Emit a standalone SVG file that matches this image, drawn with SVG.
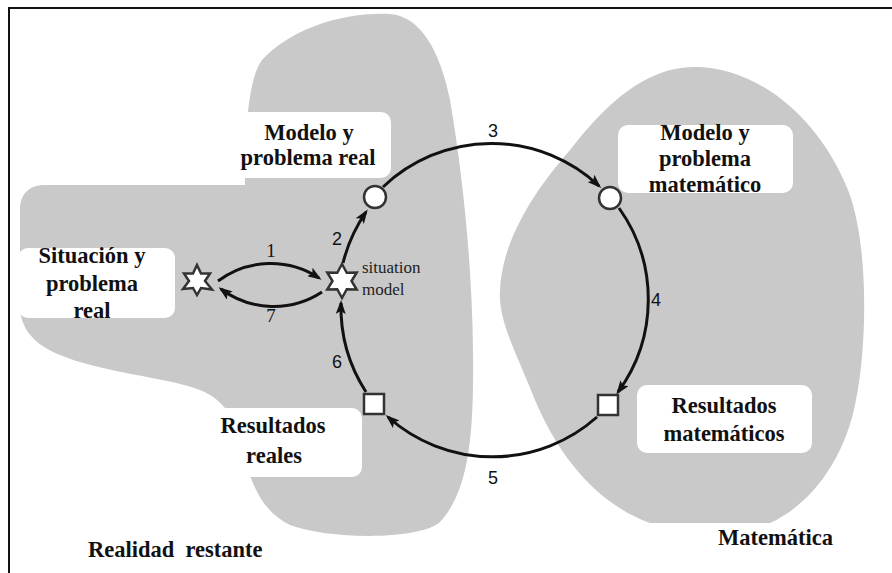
<svg xmlns="http://www.w3.org/2000/svg" width="892" height="573" viewBox="0 0 892 573">
  <defs>
    <marker id="arrow" viewBox="0 0 14 10" refX="11" refY="5" markerWidth="14" markerHeight="10" markerUnits="userSpaceOnUse" orient="auto">
      <path d="M0,0 L14,5 L0,10 L3,5 Z" fill="#111"/>
    </marker>
  </defs>
  <style>
    .region { fill: #c9c9c9; }
    .box { fill: #ffffff; }
    .lbl { font-family: "Liberation Serif", "Times New Roman", serif; font-weight: bold; font-size: 22.5px; fill: #111; text-anchor: middle; }
    .area { font-family: "Liberation Serif", "Times New Roman", serif; font-weight: bold; font-size: 22.5px; fill: #111; }
    .num { font-family: "Liberation Sans", Arial, sans-serif; font-size: 18px; fill: #111; text-anchor: middle; }
    .num-serif { font-family: "Liberation Serif", "Times New Roman", serif; font-size: 19px; fill: #111; text-anchor: middle; }
    .note { font-family: "Liberation Serif", "Times New Roman", serif; font-size: 17px; fill: #222; }
    .edge { fill: none; stroke: #111; stroke-width: 3; marker-end: url(#arrow); }
    .node { fill: #ffffff; stroke: #333; stroke-width: 2.5; }
  </style>

  <!-- page -->
  <rect x="0" y="0" width="892" height="573" fill="#ffffff"/>
  <g id="frame" stroke="#111" stroke-width="2" fill="none">
    <line x1="8" y1="8" x2="892" y2="8"/>
    <line x1="9" y1="7" x2="9" y2="573"/>
  </g>

  <!-- the two worlds -->
  <g id="regions">
    <path id="reality" class="region" d="M 20,210 C 20,195 28,185 45,185 L 245,185 C 245,140 247,80 262,60 C 290,30 340,12 390,14 C 420,16 440,50 450,100 C 462,170 472,260 473,350 C 474,430 470,490 440,522 C 420,540 330,540 290,525 C 255,508 248,470 240,440 C 235,420 225,400 200,390 C 170,378 100,372 60,355 C 35,345 22,330 20,310 Z"/>
    <path id="mathematics" class="region" d="M 694,67 C 760,67 820,120 848,190 C 868,240 868,340 856,400 C 845,460 810,505 770,523 L 650,523 C 600,505 560,460 535,400 C 515,350 498,320 500,290 C 502,240 535,190 570,150 C 605,105 645,67 694,67 Z"/>
  </g>

  <!-- labelled stages -->
  <g id="situacion-label">
    <rect class="box" x="18" y="248" width="157" height="70" rx="10"/>
    <text class="lbl" x="92" y="263">Situación y</text>
    <text class="lbl" x="92" y="291">problema</text>
    <text class="lbl" x="92" y="318">real</text>
  </g>
  <g id="modelo-real-label">
    <rect class="box" x="226" y="112" width="165" height="66" rx="10"/>
    <text class="lbl" x="309" y="140">Modelo y</text>
    <text class="lbl" x="308" y="165">problema real</text>
  </g>
  <g id="modelo-mat-label">
    <rect class="box" x="618" y="125" width="175" height="68" rx="10"/>
    <text class="lbl" x="705" y="140">Modelo y</text>
    <text class="lbl" x="705" y="166">problema</text>
    <text class="lbl" x="705" y="192">matemático</text>
  </g>
  <g id="resultados-mat-label">
    <rect class="box" x="637" y="385" width="175" height="68" rx="10"/>
    <text class="lbl" x="724" y="413">Resultados</text>
    <text class="lbl" x="724" y="441">matemáticos</text>
  </g>
  <g id="resultados-reales-label">
    <rect class="box" x="217" y="408" width="145" height="69" rx="10"/>
    <text class="lbl" x="273" y="433">Resultados</text>
    <text class="lbl" x="274" y="463">reales</text>
  </g>
  <g id="area-labels">
    <text class="area" x="88" y="557" xml:space="preserve">Realidad  restante</text>
    <text class="area" x="718" y="545">Matemática</text>
  </g>

  <!-- connectors -->
  <g id="connectors">
    <path class="edge" d="M 218,281 A 88 88 0 0 1 319,278"/>
    <path class="edge" d="M 322,292 A 88 88 0 0 1 221,289"/>
    <path class="edge" d="M 343,263 A 157 157 0 0 1 366,212"/>
    <path class="edge" d="M 383,187 A 157 157 0 0 1 599,186"/>
    <path class="edge" d="M 619,208 A 157 157 0 0 1 618,392"/>
    <path class="edge" d="M 597,417 A 157 157 0 0 1 388,417"/>
    <path class="edge" d="M 366,392 A 157 157 0 0 1 341,303"/>
    <text class="num-serif" x="271" y="257">1</text>
    <text class="num" x="337" y="245">2</text>
    <text class="num" x="493" y="137">3</text>
    <text class="num" x="656" y="306">4</text>
    <text class="num" x="493" y="484">5</text>
    <text class="num" x="337" y="368">6</text>
    <text class="num-serif" x="271" y="322">7</text>
  </g>

  <!-- nodes -->
  <g id="situacion-real">
    <polygon class="node" points="197,265 201,273.5 210,273.5 205,281 212,289.5 201,288 197,295 193,288 183,289 189,281 184,273.5 193,273.5"/>
  </g>
  <g id="situation-model">
    <polygon class="node" points="342,264 346.75,272.77 356.72,272.5 351.5,281 356.72,289.5 346.75,289.23 342,298 337.25,289.23 327.28,289.5 332.5,281 327.28,272.5 337.25,272.77"/>
    <text class="note" x="362" y="273">situation</text>
    <text class="note" x="362" y="295">model</text>
  </g>
  <g id="modelo-real">
    <circle class="node" cx="375" cy="197" r="11"/>
  </g>
  <g id="modelo-mat">
    <circle class="node" cx="610" cy="198" r="11"/>
  </g>
  <g id="resultados-mat">
    <rect class="node" x="598" y="395" width="20" height="20"/>
  </g>
  <g id="resultados-reales">
    <rect class="node" x="364" y="394" width="20" height="20"/>
  </g>
</svg>
